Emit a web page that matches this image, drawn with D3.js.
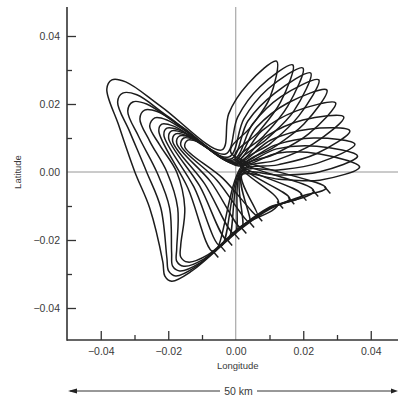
<!DOCTYPE html>
<html>
<head>
<meta charset="utf-8">
<script src="https://cdn.jsdelivr.net/npm/d3@7"></script>
<style>
  html, body { margin: 0; padding: 0; background: #fff; }
  svg { display: block; font-family: "Liberation Sans", Arial, sans-serif; }
  .track { fill: none; stroke: #1c1c1c; stroke-width: 1.5; }
  .zero { stroke: #8a8a8a; stroke-width: 0.9; }
  .frame { stroke: #333; stroke-width: 1.6; }
  .tick-lab { fill: #3a3a3a; font-size: 10.5px; }
  .axis-title { fill: #3a3a3a; font-size: 9.5px; }
</style>
</head>
<body>
<div id="chart"></div>
<script>
// daily ground-track loops, [longitude, latitude]
const loop01 = [[-0.0367,0.0271],[-0.0326,0.0265],[-0.0219,0.0191],[-0.0041,0.0065],[-0.0021,0.0171],[0.0036,0.0259],[0.0121,0.0326],[0.0101,0.0218],[0.0044,0.0132],[-0.0015,0.0059],[0.0267,-0.0047],[0.0196,-0.0071],[0.0101,-0.0109],[0.0018,-0.0165],[-0.0130,-0.0291],[-0.0190,-0.0321],[-0.0210,-0.0306],[-0.0216,-0.0265],[-0.0255,-0.0106],[-0.0299,0.0000],[-0.0347,0.0138],[-0.0382,0.0244]];
const loop02 = [[-0.0335,0.0232],[-0.0293,0.0227],[-0.0199,0.0162],[-0.0030,0.0053],[0.0006,0.0162],[0.0071,0.0250],[0.0169,0.0315],[0.0133,0.0206],[0.0068,0.0118],[-0.0003,0.0044],[0.0231,-0.0056],[0.0101,-0.0106],[0.0018,-0.0162],[-0.0119,-0.0279],[-0.0178,-0.0306],[-0.0199,-0.0291],[-0.0204,-0.0253],[-0.0222,-0.0106],[-0.0264,0.0000],[-0.0314,0.0118],[-0.0350,0.0206]];
const loop03 = [[-0.0305,0.0206],[-0.0264,0.0200],[-0.0178,0.0144],[-0.0021,0.0044],[0.0024,0.0156],[0.0095,0.0244],[0.0199,0.0306],[0.0154,0.0194],[0.0083,0.0106],[0.0006,0.0032],[0.0196,-0.0068],[0.0101,-0.0105],[0.0018,-0.0161],[-0.0107,-0.0268],[-0.0166,-0.0291],[-0.0187,-0.0277],[-0.0190,-0.0238],[-0.0196,-0.0106],[-0.0234,0.0000],[-0.0287,0.0103],[-0.0320,0.0179]];
const loop04 = [[-0.0270,0.0182],[-0.0231,0.0177],[-0.0154,0.0129],[-0.0015,0.0038],[0.0036,0.0150],[0.0116,0.0232],[0.0222,0.0291],[0.0172,0.0179],[0.0092,0.0097],[0.0012,0.0026],[0.0160,-0.0079],[0.0101,-0.0103],[0.0018,-0.0159],[-0.0095,-0.0256],[-0.0154,-0.0277],[-0.0175,-0.0262],[-0.0175,-0.0227],[-0.0172,-0.0106],[-0.0204,0.0000],[-0.0255,0.0091],[-0.0284,0.0156]];
const loop05 = [[-0.0240,0.0159],[-0.0204,0.0153],[-0.0136,0.0112],[-0.0009,0.0035],[0.0050,0.0141],[0.0133,0.0221],[0.0246,0.0271],[0.0187,0.0165],[0.0104,0.0085],[0.0015,0.0021],[0.0127,-0.0091],[0.0018,-0.0158],[-0.0083,-0.0244],[-0.0142,-0.0265],[-0.0163,-0.0250],[-0.0163,-0.0215],[-0.0151,-0.0106],[-0.0175,0.0000],[-0.0225,0.0079],[-0.0255,0.0135]];
const loop06 = [[-0.0219,0.0141],[-0.0184,0.0135],[-0.0124,0.0100],[-0.0006,0.0032],[0.0062,0.0132],[0.0154,0.0203],[0.0270,0.0241],[0.0202,0.0141],[0.0110,0.0071],[0.0018,0.0018],[-0.0065,-0.0235],[-0.0142,-0.0047],[-0.0228,0.0121]];
const loop07 = [[-0.0204,0.0129],[-0.0169,0.0124],[-0.0113,0.0091],[-0.0003,0.0029],[0.0077,0.0121],[0.0178,0.0179],[0.0296,0.0203],[0.0216,0.0112],[0.0116,0.0053],[0.0018,0.0012],[-0.0044,-0.0218],[-0.0124,-0.0044],[-0.0213,0.0109]];
const loop08 = [[-0.0190,0.0121],[-0.0154,0.0115],[-0.0104,0.0085],[0.0000,0.0026],[0.0092,0.0106],[0.0199,0.0153],[0.0320,0.0162],[0.0228,0.0082],[0.0121,0.0035],[0.0018,0.0006],[-0.0024,-0.0200],[-0.0107,-0.0041],[-0.0199,0.0100]];
const loop09 = [[-0.0178,0.0112],[-0.0142,0.0106],[-0.0098,0.0079],[0.0003,0.0026],[0.0104,0.0094],[0.0216,0.0126],[0.0338,0.0121],[0.0237,0.0053],[0.0124,0.0021],[0.0018,0.0003],[-0.0003,-0.0182],[-0.0092,-0.0035],[-0.0187,0.0091]];
const loop10 = [[-0.0166,0.0106],[-0.0130,0.0100],[-0.0089,0.0074],[0.0006,0.0024],[0.0116,0.0079],[0.0231,0.0100],[0.0353,0.0082],[0.0243,0.0026],[0.0127,0.0006],[0.0018,0.0000],[0.0018,-0.0165],[-0.0074,-0.0029],[-0.0175,0.0085]];
const loop11 = [[-0.0154,0.0100],[-0.0121,0.0094],[-0.0083,0.0071],[0.0006,0.0021],[0.0121,0.0068],[0.0240,0.0076],[0.0361,0.0047],[0.0246,0.0000],[0.0127,-0.0009],[0.0018,-0.0006],[0.0041,-0.0147],[-0.0056,-0.0024],[-0.0163,0.0079]];
const loop12 = [[-0.0142,0.0094],[-0.0110,0.0088],[-0.0074,0.0065],[0.0009,0.0018],[0.0127,0.0056],[0.0249,0.0053],[0.0367,0.0015],[0.0249,-0.0024],[0.0127,-0.0021],[0.0018,-0.0009],[0.0065,-0.0129],[-0.0039,-0.0018],[-0.0151,0.0074]];

// daily time marks along the lower edge
const markLon = [0.0267, 0.0231, 0.0196, 0.0160, 0.0127, -0.0065, -0.0044, -0.0024, -0.0003, 0.0018, 0.0041, 0.0065];
const markLat = [-0.0047, -0.0056, -0.0068, -0.0079, -0.0091, -0.0235, -0.0218, -0.0200, -0.0182, -0.0165, -0.0147, -0.0129];

const majorTicks = [-0.04, -0.02, 0.00, 0.02, 0.04];
const minorTicks = [-0.03, -0.01, 0.01, 0.03];
const xTickLabels = ["\u22120.04", "\u22120.02", "0.00", "0.02", "0.04"];
const yTickLabels = ["\u22120.04", "\u22120.02", "0.00", "0.02", "0.04"];

const loops = [loop01, loop02, loop03, loop04, loop05, loop06,
               loop07, loop08, loop09, loop10, loop11, loop12];

const W = 398, H = 399;
const svg = d3.select("#chart").append("svg").attr("width", W).attr("height", H);

const x = d3.scaleLinear().domain([-0.05, 0.05]).range([67, 404.5]);
const y = d3.scaleLinear().domain([-0.05, 0.05]).range([342, 2]);
const axisY = 340, topY = 7;

// zero lines
svg.append("line").attr("class", "zero")
  .attr("x1", x(0)).attr("x2", x(0)).attr("y1", topY).attr("y2", axisY);
svg.append("line").attr("class", "zero")
  .attr("x1", x(-0.05)).attr("x2", W).attr("y1", y(0)).attr("y2", y(0));

// tracks
const line = d3.line()
  .x(d => x(d[0]))
  .y(d => y(d[1]))
  .curve(d3.curveCatmullRomClosed.alpha(0.5));

svg.append("g").selectAll("path").data(loops).enter()
  .append("path").attr("class", "track").attr("d", line);

// time marks
svg.append("g").selectAll("line").data(markLon).enter()
  .append("line").attr("class", "track")
  .attr("x1", (d, i) => x(d) - 1.5).attr("y1", (d, i) => y(markLat[i]) - 1.5)
  .attr("x2", (d, i) => x(d) + 4.5).attr("y2", (d, i) => y(markLat[i]) + 5.5);

// axes
const yAxis = d3.axisLeft(y).tickValues(majorTicks).tickSize(-9).tickSizeOuter(0)
  .tickPadding(7).tickFormat((d, i) => yTickLabels[i]);
const yMinor = d3.axisLeft(y).tickValues(minorTicks).tickSize(-5).tickSizeOuter(0).tickFormat("");
const xAxis = d3.axisBottom(x).tickValues(majorTicks).tickSize(-9).tickSizeOuter(0)
  .tickPadding(8).tickFormat((d, i) => xTickLabels[i]);
const xMinor = d3.axisBottom(x).tickValues(minorTicks).tickSize(-5).tickSizeOuter(0).tickFormat("");

function styleAxis(g) {
  g.select(".domain").remove();
  g.selectAll(".tick line").attr("stroke", "#333").attr("stroke-width", 1.3);
  g.selectAll(".tick text").attr("class", "tick-lab").attr("fill", null);
}

svg.append("g").attr("transform", "translate(" + x(-0.05) + ",0)").call(yAxis).call(styleAxis);
svg.append("g").attr("transform", "translate(" + x(-0.05) + ",0)").call(yMinor).call(styleAxis);
svg.append("g").attr("transform", "translate(0," + axisY + ")").call(xAxis).call(styleAxis);
svg.append("g").attr("transform", "translate(0," + axisY + ")").call(xMinor).call(styleAxis);
// the zero lines stand in for the ticks at 0.00
svg.selectAll(".tick").filter(d => d === 0).select("line").remove();

svg.append("line").attr("class", "frame")
  .attr("x1", x(-0.05)).attr("x2", x(-0.05)).attr("y1", topY).attr("y2", axisY + 0.8);
svg.append("line").attr("class", "frame")
  .attr("x1", x(-0.05)).attr("x2", W).attr("y1", axisY).attr("y2", axisY);

// titles
svg.append("text").attr("class", "axis-title")
  .attr("transform", "translate(21," + y(0) + ") rotate(-90)")
  .attr("text-anchor", "middle").text("Latitude");
svg.append("text").attr("class", "axis-title")
  .attr("x", x(0) + 2).attr("y", 369).attr("text-anchor", "middle").text("Longitude");

// scale bar
const barY = 391;
svg.append("line").attr("stroke", "#333").attr("stroke-width", 1)
  .attr("x1", 70).attr("x2", 220).attr("y1", barY).attr("y2", barY);
svg.append("line").attr("stroke", "#333").attr("stroke-width", 1)
  .attr("x1", 257).attr("x2", 394).attr("y1", barY).attr("y2", barY);
svg.append("path").attr("fill", "#222")
  .attr("d", "M68," + barY + "l9,-2.6l0,5.2z");
svg.append("path").attr("fill", "#222")
  .attr("d", "M398," + barY + "l-7,-2.6l0,5.2z");
svg.append("text").attr("class", "axis-title").style("font-size", "10.5px")
  .attr("x", 238.5).attr("y", barY + 3.5).attr("text-anchor", "middle").text("50 km");
</script>
</body>
</html>
